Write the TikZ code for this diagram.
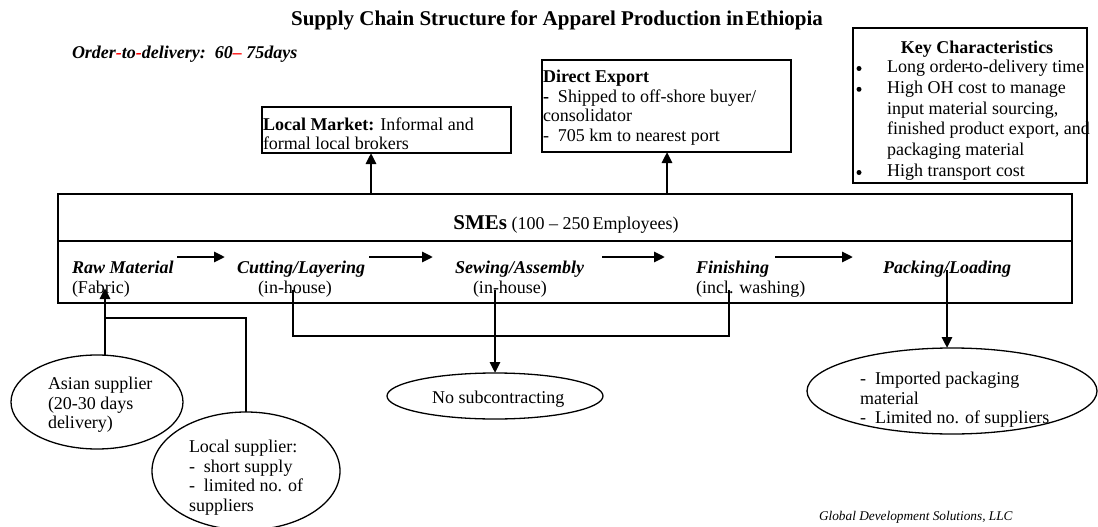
\documentclass[tikz,border=0pt]{standalone}
\usepackage{fontspec}
\setmainfont{Liberation Serif}
\usetikzlibrary{arrows.meta,shapes.geometric}
\begin{document}
\begin{tikzpicture}[x=1pt,y=-1pt,
  every node/.style={inner sep=0pt, outer sep=0pt},
  body/.style={font=\fontsize{18}{19.5}\selectfont, align=left, anchor=north west, execute at begin node=\strut},
  keytext/.style={font=\fontsize{18}{20.8}\selectfont, align=left, anchor=north west, execute at begin node=\strut},
  single/.style={font=\fontsize{18}{19.5}\selectfont, anchor=base west},
  stage/.style={font=\fontsize{18}{19.5}\selectfont\bfseries\itshape, anchor=base west},
  dot/.style={circle, fill, minimum size=5pt},
  boxframe/.style={draw, line width=1.3pt, rectangle, anchor=north west},
  oval/.style={draw, line width=1.3pt, ellipse},
  heavy/.style={line width=2.7pt, -{Triangle[length=11pt,width=10pt]}},
  thinline/.style={line width=1.2pt},
]
\useasboundingbox (0,0) rectangle (1098,527);

% ---------- headings ----------
\node[font=\fontsize{21}{24}\selectfont\bfseries, anchor=base] (title) at (557,25.5)
  {Supply Chain Structure for Apparel Production in\hspace{2pt}Ethiopia};
\node[font=\fontsize{18}{20}\selectfont\bfseries\itshape, anchor=base west] (lead) at (72,58.5)
  {Order\textcolor{red}{-}to\textcolor{red}{-}delivery:\ \ 60\textcolor{red}{--}\ 75days};

% ---------- outlets ----------
\node[boxframe, minimum width=249pt, minimum height=46pt] (lmbox) at (262,107) {};
\node[body] (lmtext) at (263,117.5) {\textbf{Local Market:} Informal and\\formal local brokers};

\node[boxframe, minimum width=249pt, minimum height=92pt] (debox) at (542,60) {};
\node[body] (detext) at (543,70.5)
  {\textbf{Direct Export}\\\textbf{-}\ \ Shipped to off-shore buyer/\\consolidator\\-\ \ 705 km to nearest port};

% ---------- key characteristics ----------
\node[boxframe, minimum width=234pt, minimum height=155pt] (keybox) at (853,28) {};
\node[font=\fontsize{18}{20}\selectfont\bfseries, anchor=base] (keyhead) at (977,54) {Key Characteristics};
\node[keytext] (keylist) at (887,60)
  {Long order\kern-2.5pt-\kern-2pt to-delivery time\\High OH cost to manage\\input material sourcing,\\finished product export, and\\packaging material\\High transport cost};
\node[dot] (b1) at (859,68.5) {};
\node[dot] (b2) at (859,89.3) {};
\node[dot] (b3) at (859,172.5) {};

% ---------- SME block ----------
\node[boxframe, minimum width=1014pt, minimum height=47pt] (smehead) at (58,194) {};
\node[boxframe, minimum width=1014pt, minimum height=62pt] (smebody) at (58,241) {};
\node[font=\fontsize{18}{20}\selectfont, anchor=base] (smetitle) at (566,229)
  {{\fontsize{21}{24}\selectfont\bfseries SMEs} (100 -- 250\,Employees)};

\node[stage] (raw) at (72,273) {Raw Material};
\node[single] (rawsub) at (72,293) {(Fabric)};
\node[stage] (cut) at (237,273) {Cutting/Layering};
\node[single] (cutsub) at (258,293) {(in-house)};
\node[stage] (sew) at (455,273) {Sewing/Assembly};
\node[single] (sewsub) at (473,293) {(in-house)};
\node[stage] (fin) at (696,273) {Finishing};
\node[single] (finsub) at (696,293) {(incl. washing)};
\node[stage] (pack) at (883,273) {Packing/Loading};

% ---------- suppliers and other ovals ----------
\node[oval, minimum width=172pt, minimum height=94pt] (asian) at (97,402) {};
\node[body] (asiantext) at (48,377.5) {Asian supplier\\(20-30 days\\delivery)};

\node[oval, minimum width=188pt, minimum height=118pt] (local) at (246,471) {};
\node[body] (localtext) at (189,440.5) {Local supplier:\\-\ \ short supply\\-\ \ limited no. of\\suppliers};

\node[oval, minimum width=216pt, minimum height=46pt] (nosub) at (495,396) {};
\node[single] (nosubtext) at (432,403.5) {No subcontracting};

\node[oval, minimum width=290pt, minimum height=86pt] (packoval) at (952,391) {};
\node[body] (packtext) at (860,372.5) {-\ \ Imported packaging\\material\\-\ \ Limited no. of suppliers};

\node[font=\fontsize{13.3}{15}\selectfont\itshape, anchor=base west] (credit) at (819,520)
  {Global Development Solutions, LLC};

% ---------- connectors ----------
\coordinate (lmfoot) at (371,194);
\coordinate (defoot) at (667,194);
\draw[heavy] (lmfoot) -- (lmfoot |- lmbox.south);
\draw[heavy] (defoot) -- (defoot |- debox.south);

\coordinate (f1a) at (177,257); \coordinate (f1b) at (225,257);
\coordinate (f2a) at (369,257); \coordinate (f2b) at (433,257);
\coordinate (f3a) at (602,257); \coordinate (f3b) at (665,257);
\coordinate (f4a) at (775,257); \coordinate (f4b) at (853,257);
\draw[heavy] (f1a) -- (f1b);
\draw[heavy] (f2a) -- (f2b);
\draw[heavy] (f3a) -- (f3b);
\draw[heavy] (f4a) -- (f4b);

\coordinate (rawin) at (105,288);
\draw[heavy] (rawin |- asian.north) -- (rawin);
\coordinate (tap) at (105,318);
\draw[thinline] (tap) -| (local.north);

\coordinate (cutdrop) at (293,290);
\coordinate (findrop) at (729,290);
\draw[thinline] (cutdrop) -- ++(0,46) -| (findrop);

\coordinate (sewdrop) at (495,290);
\draw[heavy] (sewdrop) -- (nosub.north);

\coordinate (packdrop) at (947,270);
\draw[heavy] (packdrop) -- (packdrop |- packoval.north);
\end{tikzpicture}
\end{document}
